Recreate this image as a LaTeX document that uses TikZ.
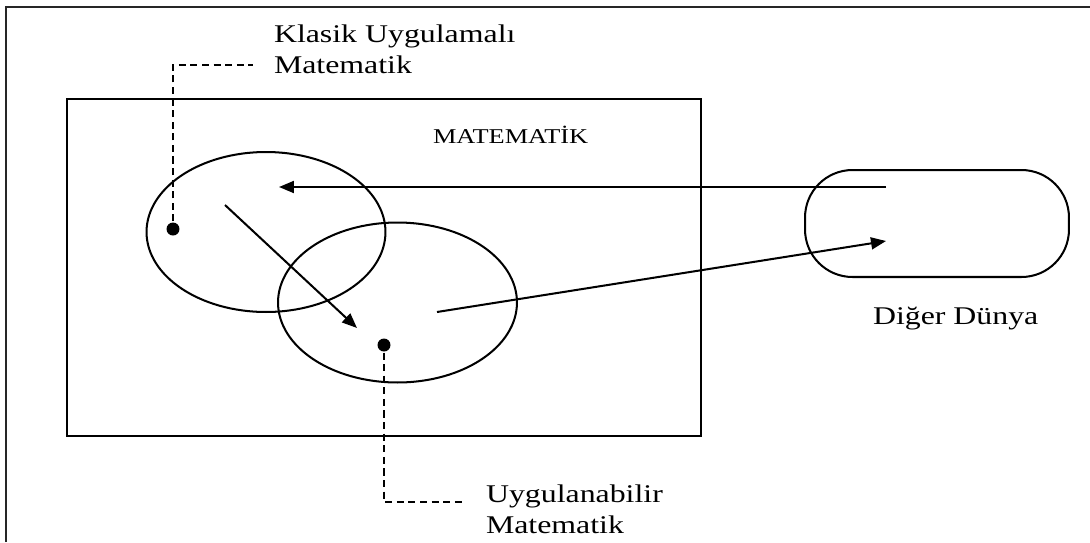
\documentclass[tikz,border=0pt]{standalone}
\usepackage{fontspec}
\setmainfont{Liberation Serif}[FakeStretch=1.25]
\usetikzlibrary{arrows.meta,positioning,shapes.geometric}

\begin{document}
\begin{tikzpicture}[
  x=0.02cm, y=-0.02cm,
  line width=1.15pt,
  set/.style={ellipse, draw, minimum width=4.78cm, minimum height=3.2cm},
  world/.style={rectangle, draw, rounded corners=0.95cm, minimum width=5.28cm, minimum height=2.14cm},
  dot/.style={circle, fill, inner sep=0pt, minimum size=0.26cm},
  lbl/.style={font=\fontsize{14.5}{17.6}\selectfont, align=left, inner sep=0pt, anchor=base west},
  rel/.style={-{Triangle[length=0.3cm, width=0.24cm]}},
  link/.style={dash pattern=on 4pt off 2.6pt}
]
  \useasboundingbox (0,0) rectangle (1090,542);
  \draw[black!85] (6,542) -- (6,7) -- (1090,7);

  \node[draw, line width=1.5pt, minimum width=12.68cm, minimum height=6.74cm] (mat) at (384,267.5) {};
  \node[lbl, font=\fontsize{12}{14}\selectfont] (title) at (432,143) {MATEMATİK};

  \node[set] (klasik) at (266,232) {};
  \node[set] (uyg) at (397.5,302.5) {};
  \node[world] (dunya) at (937,223.5) {};
  \node[lbl] (dunyalbl) at (872,324) {Diğer Dünya};

  \node[dot] (p1) at (173,229) {};
  \node[dot] (p2) at (384,345) {};
  % base anchor sits on the last line
  \node[lbl] (klasiklbl) at (273,73) {Klasik Uygulamalı\\Matematik};
  \node[lbl] (uyglbl) at (485,533) {Uygulanabilir\\Matematik};

  \coordinate (k1) at (253,65);
  \coordinate (u1) at (462,502);
  \draw[link] (p1) |- (k1);
  \draw[link] (p2) |- (u1);

  \coordinate (d1) at (886,187);
  \coordinate (d2) at (886,241);
  \coordinate (k2) at (279,187);
  \coordinate (k3) at (225,205);
  \coordinate (u2) at (357,328);
  \coordinate (u3) at (437,312);
  \draw[rel] (d1) -- (k2);
  \draw[rel] (k3) -- (u2);
  \draw[rel] (u3) -- (d2);
\end{tikzpicture}
\end{document}
